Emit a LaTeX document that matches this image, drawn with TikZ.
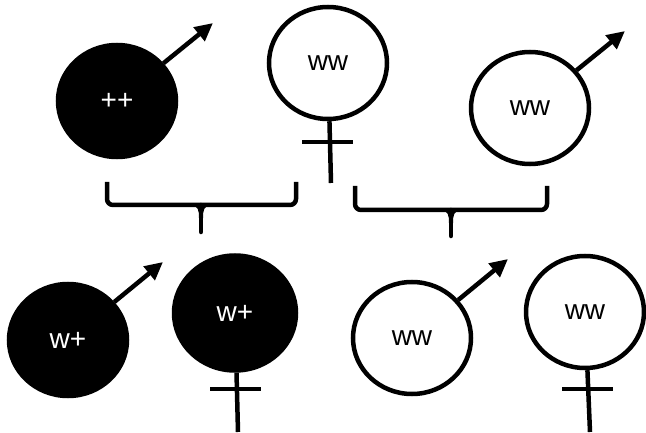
\documentclass[tikz,border=0pt]{standalone}
\usepackage{fontspec}
\setmainfont{Liberation Sans}
\usetikzlibrary{arrows.meta,shapes.geometric}

\begin{document}
\begin{tikzpicture}[x=1pt,y=1pt,
	cell/.style={ellipse,draw,line width=4.5pt,minimum width=118pt,minimum height=112pt,inner sep=0pt,font=\fontsize{28}{32}\selectfont},
	filled/.style={cell,fill=black,text=white},
	hollow/.style={cell,fill=white},
	malearrow/.style={line width=4.5pt,-{Triangle[length=18pt,width=17pt]}},
	stem/.style={line width=4.5pt},
	bracket/.style={line width=4.5pt,rounded corners=6pt}]
	\useasboundingbox (0,0) rectangle (646,432);

	% parents
	\node[filled] (mA) at (117,331) {++};
	\node[hollow] (fA) at (328,369) {ww};
	\node[hollow] (mB) at (530,324) {ww};

	% offspring
	\node[filled] (mC) at (68,92) {w+};
	\node[filled,minimum width=122pt,minimum height=115pt] (fC) at (235,119) {w+};
	\node[hollow] (mD) at (412,94) {ww};
	\node[hollow] (fD) at (585,120) {ww};

	\coordinate(mAtip) at (213,409);
	\coordinate(mBtip) at (625,401);
	\coordinate(mCtip) at (163,170);
	\coordinate(mDtip) at (508,173);

	\coordinate(fAend) at (331,249);
	\coordinate(fCend) at (238,0);
	\coordinate(fDend) at (590,0);
	\coordinate(fAl) at (302,290);
	\coordinate(fAr) at (353,290);
	\coordinate(fCl) at (210,43);
	\coordinate(fCr) at (261,43);
	\coordinate(fDl) at (562,43);
	\coordinate(fDr) at (613,43);

	\draw[malearrow] (mA) -- (mAtip);
	\draw[malearrow] (mB) -- (mBtip);
	\draw[malearrow] (mC) -- (mCtip);
	\draw[malearrow] (mD) -- (mDtip);

	\draw[stem] (fA) -- (fAend);
	\draw[stem] (fC) -- (fCend);
	\draw[stem] (fD) -- (fDend);
	\draw[stem] (fAl) -- (fAr);
	\draw[stem] (fCl) -- (fCr);
	\draw[stem] (fDl) -- (fDr);

	% crosses
	\coordinate(b1mid) at (201,227);
	\coordinate(b1tip) at (201,200);
	\coordinate(b2mid) at (451,222);
	\coordinate(b2tip) at (451,196);
	\draw[bracket] (107,250) -- (107,227) -- (296,227) -- (296,250);
	\draw[bracket] (355,246) -- (355,222) -- (547,222) -- (547,246);
	\draw[stem,line cap=round] (b1mid) -- (b1tip);
	\draw[stem,line cap=round] (b2mid) -- (b2tip);
	\fill (192,226) .. controls (198,226) and (199,222) .. (199,214) -- (203,214) .. controls (203,222) and (204,226) .. (210,226) -- cycle;
	\fill (442,221) .. controls (448,221) and (449,217) .. (449,209) -- (453,209) .. controls (453,217) and (454,221) .. (460,221) -- cycle;
\end{tikzpicture}
\end{document}
